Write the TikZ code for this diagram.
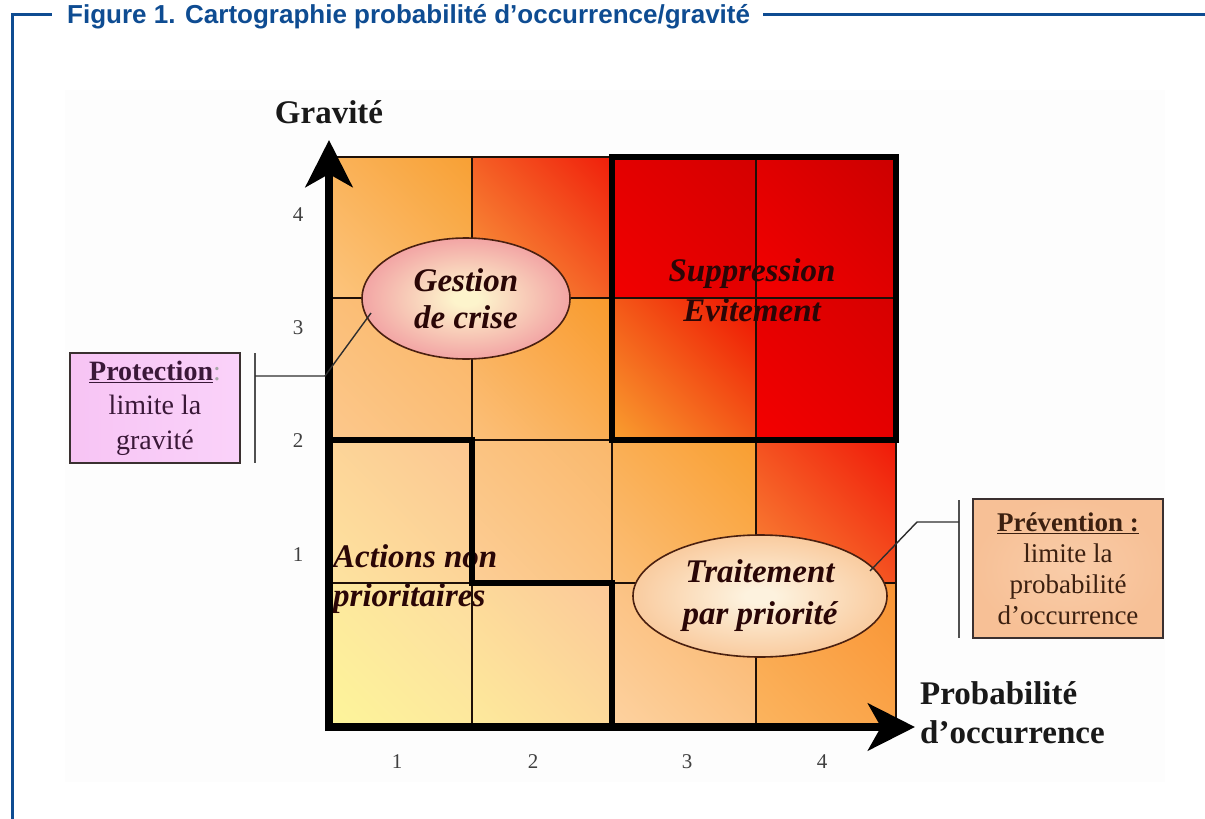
\documentclass[tikz,border=0pt]{standalone}
\usepackage{fontspec}
\setmainfont{Liberation Serif}
\newfontfamily\titlefont{Liberation Sans}
\usetikzlibrary{shapes.geometric,arrows.meta,shadings}

\definecolor{titleblue}{HTML}{0E4C92}
\definecolor{gridline}{HTML}{1E1008}
\definecolor{bigtext}{HTML}{2A0606}
\definecolor{numgray}{HTML}{404040}
\definecolor{gestin}{HTML}{FDF4CC}
\definecolor{gestout}{HTML}{EE8494}
\definecolor{trtin}{HTML}{FDF2DE}
\definecolor{trtout}{HTML}{F7B880}
\definecolor{ellline}{HTML}{4A2010}
\definecolor{protfill}{HTML}{F7C4F4}
\definecolor{protfillb}{HTML}{FAD2FA}
\definecolor{prottext}{HTML}{3A1838}
\definecolor{prevfill}{HTML}{F7C096}
\definecolor{prevfillb}{HTML}{F9CCA8}
\definecolor{prevtext}{HTML}{3C2010}
\definecolor{boxline}{HTML}{3A3030}
\definecolor{connline}{HTML}{2E2E2E}
\definecolor{brkline}{HTML}{505050}
% cell colours: L = lower left, U = upper right
\definecolor{c41L}{HTML}{FCC57E}\definecolor{c41U}{HTML}{F8A034}
\definecolor{c42L}{HTML}{F9A040}\definecolor{c42U}{HTML}{F01E0A}
\definecolor{c43L}{HTML}{F20000}\definecolor{c43U}{HTML}{D40000}
\definecolor{c44L}{HTML}{F40000}\definecolor{c44U}{HTML}{CC0000}
\definecolor{c31L}{HTML}{FCC88C}\definecolor{c31U}{HTML}{FAB564}
\definecolor{c32L}{HTML}{FBC07A}\definecolor{c32U}{HTML}{F99A2C}
\definecolor{c33L}{HTML}{F9A030}\definecolor{c33U}{HTML}{EE1000}
\definecolor{c34L}{HTML}{F40000}\definecolor{c34U}{HTML}{D60000}
\definecolor{c21L}{HTML}{FDE3A0}\definecolor{c21U}{HTML}{FCC690}
\definecolor{c22L}{HTML}{FCCE96}\definecolor{c22U}{HTML}{FAB86C}
\definecolor{c23L}{HTML}{FBBF78}\definecolor{c23U}{HTML}{F99E30}
\definecolor{c24L}{HTML}{F98A38}\definecolor{c24U}{HTML}{F01808}
\definecolor{c11L}{HTML}{FDF59A}\definecolor{c11U}{HTML}{FDDCA0}
\definecolor{c12L}{HTML}{FDEA9C}\definecolor{c12U}{HTML}{FCC898}
\definecolor{c13L}{HTML}{FDD2A0}\definecolor{c13U}{HTML}{FAB46A}
\definecolor{c14L}{HTML}{FBB45E}\definecolor{c14U}{HTML}{F99434}

\pgfdeclareradialshading{gestshade}{\pgfpoint{0bp}{0bp}}{color(0bp)=(gestin); color(3bp)=(gestin); color(34bp)=(gestout); color(50bp)=(gestout)}
\pgfdeclareradialshading{trtshade}{\pgfpoint{0bp}{0bp}}{color(0bp)=(trtin); color(3bp)=(trtin); color(36bp)=(trtout); color(50bp)=(trtout)}

\newcommand\gcell[5]{\shade[shading=bilinear interpolation, lower left=#5L, upper right=#5U, upper left=#5L!50!#5U, lower right=#5L!50!#5U] (#1,#2) rectangle (#3,#4);}

\begin{document}
\begin{tikzpicture}[x=1pt,y=-1pt,
  thin grid/.style={draw=gridline, line width=1.4pt},
  thick grid/.style={draw=black, line width=6pt, line cap=rect, line join=miter},
  axisline/.style={line width=8pt, -{Stealth[length=47pt,width=47pt,inset=13pt]}},
  bigit/.style={font=\bfseries\itshape\fontsize{33}{37}\selectfont, text=bigtext, inner sep=0pt},
  ell/.style={ellipse, shade, draw=ellline, line width=1.6pt, inner sep=0pt, font=\bfseries\itshape\fontsize{33}{37}\selectfont, text=bigtext, align=center},
  axlbl/.style={font=\bfseries\fontsize{33}{39}\selectfont, text=black!90, inner sep=0pt},
  num/.style={font=\fontsize{21}{21}\selectfont, text=numgray, inner sep=0pt},
  conn/.style={draw=connline, line width=1.4pt},
  brk/.style={draw=brkline, line width=2pt},
]
\useasboundingbox (0,0) rectangle (1205,819);
\fill[white] (0,0) rectangle (1205,819);
\fill[black!0.8] (65,90) rectangle (1165,782);

% title frame
\draw[titleblue, line width=3pt] (12,819) -- (12,14) -- (52,14);
\draw[titleblue, line width=3pt] (763,14) -- (1205,14);
\node[anchor=base west, inner sep=0pt, text=titleblue, font=\titlefont\bfseries\fontsize{26}{26}\selectfont] (title) at (67,23.5) {Figure 1. Cartographie probabilité d’occurrence/gravité};

% cells (rows from top: y 157, 298, 440, 583, 727; columns x 329, 472, 612, 756, 896)
\gcell{329}{157}{472}{298}{c41}
\gcell{472}{157}{612}{298}{c42}
\gcell{612}{157}{756}{298}{c43}
\gcell{756}{157}{896}{298}{c44}
\gcell{329}{298}{472}{440}{c31}
\gcell{472}{298}{612}{440}{c32}
\gcell{612}{298}{756}{440}{c33}
\gcell{756}{298}{896}{440}{c34}
\gcell{329}{440}{472}{583}{c21}
\gcell{472}{440}{612}{583}{c22}
\gcell{612}{440}{756}{583}{c23}
\gcell{756}{440}{896}{583}{c24}
\gcell{329}{583}{472}{727}{c11}
\gcell{472}{583}{612}{727}{c12}
\gcell{612}{583}{756}{727}{c13}
\gcell{756}{583}{896}{727}{c14}

% zone labels under the lines
\node[bigit, align=center, font=\bfseries\itshape\fontsize{33}{40}\selectfont] (supp) at (752,290) {Suppression\\Evitement};
\node[bigit, align=left, anchor=west, font=\bfseries\itshape\fontsize{33}{39}\selectfont] (actions) at (333,579) {Actions non\\prioritaires};

% thin grid
\foreach \x in {472,612,756,896} \draw[thin grid] (\x,157) -- (\x,727);
\foreach \y in {157,298,440,583} \draw[thin grid] (329,\y) -- (896,\y);

% thick zones
\draw[thick grid] (612,157) rectangle (896,440);
\draw[thick grid] (329,440) -- (472,440) -- (472,583) -- (612,583) -- (612,727);

% ellipses
\node[ell, shading=gestshade, minimum width=208pt, minimum height=121pt] (gest) at (466,298.5) {Gestion\\de crise};
\node[ell, shading=trtshade, minimum width=254pt, minimum height=122pt, font=\bfseries\itshape\fontsize{33}{42}\selectfont] (trt) at (760,596) {Traitement\\par priorité};

% axes
\coordinate (O) at (329,727);
\coordinate (ytip) at (329,140);
\coordinate (xtip) at (915,727);
\draw[axisline] (329,731) -- (ytip);
\draw[axisline] (325,727) -- (xtip);

% axis labels
\node[axlbl] (grav) at (329,112) {Gravité};
\node[axlbl, anchor=west, align=left] (prob) at (920,713) {Probabilité\\d’occurrence};

% numbers
\node[num] (y4) at (298,215) {4};
\node[num] (y3) at (298,328) {3};
\node[num] (y2) at (298,441) {2};
\node[num] (y1) at (298,555) {1};
\node[num] (x1) at (397,762) {1};
\node[num] (x2) at (533,762) {2};
\node[num] (x3) at (687,762) {3};
\node[num] (x4) at (822,762) {4};

% Protection box
\node[draw=boxline, line width=2pt, left color=protfill, right color=protfillb, minimum width=170pt, minimum height=110pt, inner sep=0pt, align=center, text=prottext, font=\fontsize{28}{34.5}\selectfont] (prot) at (155,408) {\underline{\textbf{Protection}}{\color{black!35}:}\\limite la\\gravité};
\coordinate (pbtop) at (255,353);
\coordinate (pbbot) at (255,463);
\draw[brk] (pbtop) -- (pbbot);
\coordinate (pa) at (255,376);
\coordinate (pb) at (325,376);
\coordinate (gp) at (371,313);
\draw[conn] (pa) -- (pb) -- (gp);

% Prevention box
\node[draw=boxline, line width=2pt, inner color=prevfillb, outer color=prevfill, minimum width=190pt, minimum height=139pt, inner sep=0pt, align=center, text=prevtext, font=\fontsize{27}{31}\selectfont] (prev) at (1068,568.5) {\underline{\textbf{Prévention :}}\\limite la\\probabilité\\d’occurrence};
\coordinate (qbtop) at (959,500);
\coordinate (qbbot) at (959,638);
\draw[brk] (qbtop) -- (qbbot);
\coordinate (qa) at (959,522);
\coordinate (qb) at (917,522);
\coordinate (qc) at (870,571);
\draw[conn] (qa) -- (qb) -- (qc);
\end{tikzpicture}
\end{document}
